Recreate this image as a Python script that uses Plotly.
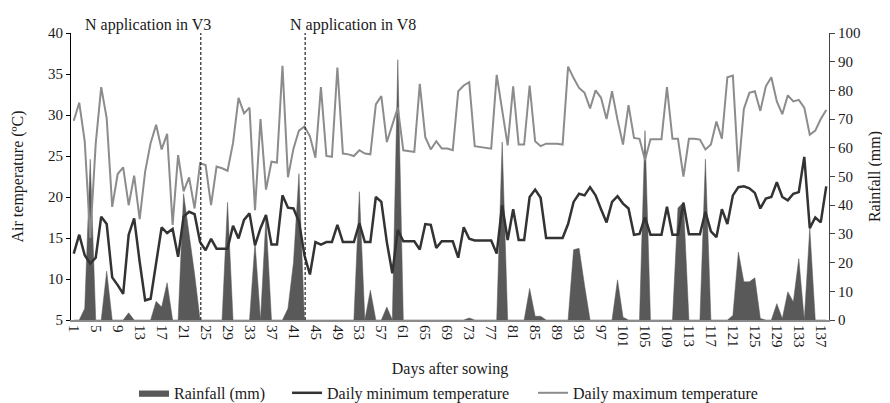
import plotly.graph_objects as go

days = list(range(1, 139))

rainfall_mm = [
    0, 0, 4, 56, 0, 0, 17, 0, 0, 0,
    2.5, 0, 0, 0, 0, 6.5, 4.5, 13, 0, 0,
    44, 30, 16, 0, 0, 0, 0, 0, 41, 0,
    0, 0, 0, 27, 0, 36, 0, 0, 0, 4,
    20, 51, 0, 0, 0, 0, 0, 0, 0, 0,
    0, 0, 44.7, 0, 10.4, 0, 0, 4.5, 0, 90.7,
    0, 0, 0, 0, 0, 0, 0, 0, 0, 0,
    0, 0, 0.7, 0, 0, 0, 0, 0, 62, 0,
    0, 0, 0, 11, 1.3, 1.3, 0, 0, 0, 0,
    0, 24.5, 25, 12, 0, 0, 0, 0, 0, 14,
    1, 0, 0, 0, 66, 0, 0, 0, 0, 0,
    39, 41, 0, 0, 0, 56, 0, 0, 0, 0,
    1.6, 23.7, 13.3, 13.3, 14.7, 0.5, 0, 0, 5.7, 0.5,
    9.8, 6.3, 21.4, 0, 32, 0, 0, 0,
]

min_temp = [
    13.1, 15.4, 12.9, 11.9, 12.6, 17.6, 16.7, 10.2, 9.25, 8.2,
    15.4, 17.4, 12.1, 7.4, 7.6, 11.7, 16.3, 15.6, 16.1, 12.7,
    17.6, 18.2, 17.9, 14.5, 13.5, 14.9, 13.7, 13.7, 13.7, 16.5,
    14.95, 17.2, 18.0, 14.1, 16.2, 17.8, 14.2, 14.2, 20.2, 18.7,
    18.6, 17.0, 12.9, 10.55, 14.5, 14.2, 14.5, 14.5, 16.6, 14.5,
    14.5, 14.5, 16.8, 14.5, 14.5, 20.0, 19.4, 14.5, 10.7, 16.0,
    14.6, 14.6, 14.6, 13.6, 16.7, 16.6, 13.8, 14.6, 14.6, 14.6,
    12.6, 16.3, 14.9, 14.7, 14.7, 14.7, 14.7, 13.1, 19.0, 14.75,
    18.5, 14.75, 14.75, 20.0, 20.9, 19.9, 15.0, 15.0, 15.0, 15.0,
    16.7, 19.4, 20.4, 20.2, 21.2, 20.2, 18.5, 16.9, 19.4, 20.1,
    19.2, 18.6, 15.4, 15.5, 17.5, 15.4, 15.4, 15.4, 18.8, 15.4,
    15.4, 19.3, 15.45, 15.45, 15.45, 18.2, 15.8, 15.1, 18.5, 16.7,
    20.2, 21.2, 21.3, 21.05, 20.5, 18.6, 19.8, 20.0, 21.8, 20.0,
    19.6, 20.4, 20.6, 24.9, 16.2, 17.5, 16.9, 21.3,
]

max_temp = [
    29.3, 31.5, 26.8, 15.0, 26.5, 33.4, 29.6, 18.8, 22.8, 23.6,
    19.0, 22.6, 17.3, 23.1, 26.6, 28.8, 25.8, 27.7, 16.6, 25.1,
    20.7, 22.4, 18.6, 24.1, 23.9, 19.0, 23.7, 23.5, 23.2, 26.6,
    32.1, 30.2, 30.9, 18.4, 29.5, 20.9, 24.3, 24.2, 36.0, 22.4,
    25.9, 28.1, 28.6, 27.4, 24.8, 33.4, 25.0, 24.9, 35.8, 25.3,
    25.2, 25.0, 25.7, 25.3, 25.2, 31.3, 32.3, 26.7, 28.8, 30.9,
    25.7, 25.6, 25.5, 33.8, 27.3, 25.8, 26.8, 25.9, 25.9, 25.7,
    32.9, 33.6, 34.0, 26.2, 26.1, 26.0, 25.9, 34.9, 30.8, 26.3,
    33.5, 26.4, 26.4, 33.6, 26.8, 26.2, 26.5, 26.5, 26.5, 26.4,
    35.9, 34.5, 33.3, 32.7, 30.8, 33.0, 32.1, 29.5, 32.9, 29.4,
    26.4, 31.2, 27.2, 27.1, 24.5, 27.05, 27.05, 27.05, 33.4, 27.1,
    27.1, 22.5, 27.1, 27.1, 27.0, 25.8, 26.4, 29.2, 27.1, 34.6,
    34.8, 23.1, 30.75, 32.7, 32.9, 30.5, 33.5, 34.6, 31.65, 30.1,
    32.4, 31.65, 31.85, 30.9, 27.6, 28.1, 29.5, 30.6,
]

x_tick_days = days[::4]
temp_ticks = [5, 10, 15, 20, 25, 30, 35, 40]
rain_ticks = [0, 10, 20, 30, 40, 50, 60, 70, 80, 90, 100]

n_events = ["N application in V3", "N application in V8"]
n_event_days = [24.13, 43.13]
n_label_days = [14.5, 51.8]

FONT = "Liberation Serif, Times New Roman, serif"
TXT = "#1a1a1a"

fig = go.Figure()

fig.add_trace(go.Scatter(
    x=days, y=rainfall_mm, name="Rainfall (mm)", mode="lines",
    fill="tozeroy", fillcolor="#595959",
    line=dict(color="#595959", width=0.5),
    yaxis="y", legend="legend",
))
fig.add_trace(go.Scatter(
    x=days, y=min_temp, name="Daily minimum temperature", mode="lines",
    line=dict(color="#333333", width=2.5),
    yaxis="y2", legend="legend2",
))
fig.add_trace(go.Scatter(
    x=days, y=max_temp, name="Daily maximum temperature", mode="lines",
    line=dict(color="#8c8c8c", width=2),
    yaxis="y2", legend="legend3",
))

for d in n_event_days:
    fig.add_shape(type="line", xref="x", yref="paper", x0=d, x1=d, y0=0, y1=1,
                  line=dict(color="#222222", width=1.2, dash="3px,2px"))

for txt, d in zip(n_events, n_label_days):
    fig.add_annotation(text=txt, x=d, xref="x", y=1.028, yref="paper",
                       yanchor="middle", xanchor="center", showarrow=False,
                       font=dict(family=FONT, size=16, color=TXT))

legend_style = dict(orientation="h", xanchor="left", y=-0.254, yanchor="middle",
                    font=dict(family=FONT, size=16, color=TXT), itemwidth=30,
                    bgcolor="rgba(0,0,0,0)")

# the page body adds an 8px offset, so the figure is 8px smaller on each axis
fig.update_layout(
    width=882, height=395,
    margin=dict(l=63, r=61, t=25, b=83, autoexpand=False),
    paper_bgcolor="white", plot_bgcolor="white",
    font=dict(family=FONT, size=15, color=TXT),
    showlegend=True,
    legend=dict(x=0.0831, **legend_style),
    legend2=dict(x=0.285, **legend_style),
    legend3=dict(x=0.6095, **legend_style),
    xaxis=dict(
        range=[0.5, 138.5], tickmode="array", tickvals=x_tick_days,
        ticktext=[str(d) for d in x_tick_days], tickangle=90,
        showline=True, linecolor="#8c8c8c", linewidth=2,
        ticks="", showgrid=False, zeroline=False, automargin=False,
        tickfont=dict(family=FONT, size=15, color=TXT),
        title=dict(text="Days after sowing", standoff=16,
                   font=dict(family=FONT, size=16, color=TXT)),
    ),
    yaxis=dict(
        side="right", range=[0, 100], tickmode="array", tickvals=rain_ticks,
        showline=True, linecolor="#444444", linewidth=1,
        ticks="outside", ticklen=5, tickcolor="#444444",
        showgrid=False, zeroline=False, automargin=False,
        tickfont=dict(family=FONT, size=15, color=TXT),
        title=dict(text="Rainfall (mm)", standoff=9,
                   font=dict(family=FONT, size=16, color=TXT)),
    ),
    yaxis2=dict(
        overlaying="y", side="left", range=[5, 40], tickmode="array",
        tickvals=temp_ticks,
        showline=True, linecolor="#000000", linewidth=1,
        ticks="outside", ticklen=4, tickcolor="#000000",
        showgrid=False, zeroline=False, automargin=False,
        tickfont=dict(family=FONT, size=15, color=TXT),
        title=dict(text="Air temperature (ºC)", standoff=20,
                   font=dict(family=FONT, size=16, color=TXT)),
    ),
)

fig.write_html("out.html")
